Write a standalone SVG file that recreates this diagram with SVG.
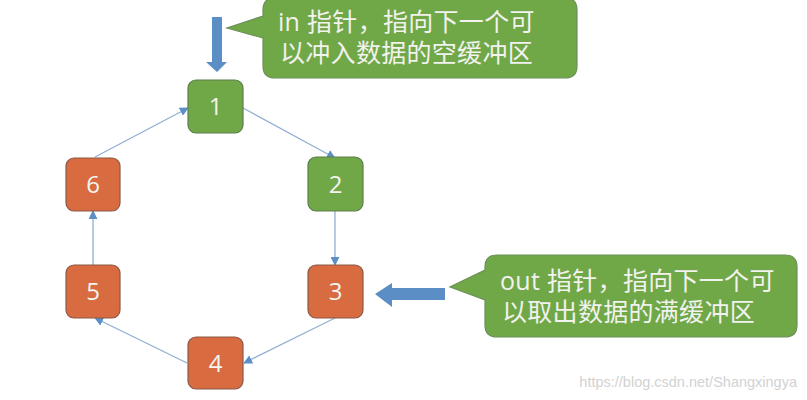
<svg xmlns="http://www.w3.org/2000/svg" width="807" height="400" viewBox="0 0 807 400">
<defs>
<marker id="ah" viewBox="0 0 10 10" refX="9" refY="5" markerWidth="9" markerHeight="9" markerUnits="userSpaceOnUse" orient="auto">
<path d="M0,0 L10,5 L0,10 Z" fill="#5b8fc7"/>
</marker>
<style>
.g{fill:#70a848;stroke:#5d7f4a;stroke-width:1.2}
.o{fill:#d86b40;stroke:#8a5a48;stroke-width:1.2}
.n{font-family:"Open Sans","Liberation Sans",sans-serif;font-size:24px;fill:#f4f4f0;text-anchor:middle}
.c{fill:#70a848;stroke:#6c8f58;stroke-width:1.2}
.t{font-family:"Open Sans","Noto Sans CJK SC",sans-serif;font-size:25px;fill:#f2f2ee}
.e{stroke:#8fb0d4;stroke-width:1.3;fill:none;marker-end:url(#ah)}
.b{fill:#5b8ec4}
</style>
</defs>
<rect width="807" height="400" fill="#ffffff"/>
<g id="connectors">
<line class="e" x1="243" y1="108" x2="335" y2="158"/>
<line class="e" x1="335" y1="211" x2="335" y2="265"/>
<line class="e" x1="335" y1="318" x2="244" y2="363"/>
<line class="e" x1="187" y1="363" x2="95" y2="318"/>
<line class="e" x1="93" y1="265" x2="93" y2="211"/>
<line class="e" x1="95" y1="157" x2="188" y2="108"/>
</g>
<g id="node1"><rect class="g" x="188" y="80" width="55" height="53" rx="8"/><text class="n" x="215.5" y="115">1</text></g>
<g id="node2"><rect class="g" x="308" y="157" width="55" height="54" rx="8"/><text class="n" x="335.5" y="193">2</text></g>
<g id="node3"><rect class="o" x="308" y="265" width="55" height="53" rx="8"/><text class="n" x="335.5" y="300">3</text></g>
<g id="node4"><rect class="o" x="188" y="337" width="55" height="52" rx="8"/><text class="n" x="215.5" y="372">4</text></g>
<g id="node5"><rect class="o" x="66" y="265" width="54" height="53" rx="8"/><text class="n" x="93" y="300">5</text></g>
<g id="node6"><rect class="o" x="66" y="158" width="54" height="53" rx="8"/><text class="n" x="93" y="193">6</text></g>
<g id="in-arrow"><path class="b" d="M212,17 H222 V62 H227 L217,72 L206,62 H212 Z"/></g>
<g id="out-arrow"><path class="b" d="M445,288 V300 H392 V307 L375,294 L392,283 V288 Z"/></g>
<g id="in-callout">
<path class="c" d="M275,-2 H565 Q577,-2 577,10 V66 Q577,78 565,78 H275 Q263,78 263,66 V38 L227,28 L263,16 V10 Q263,-2 275,-2 Z"/>
<text class="t" x="278" y="31" letter-spacing="0.3">in 指针，指向下一个可</text>
<text class="t" x="280" y="62" letter-spacing="0.3">以冲入数据的空缓冲区</text>
</g>
<g id="out-callout">
<path class="c" d="M497,255 H785 Q797,255 797,267 V325 Q797,337 785,337 H497 Q485,337 485,325 V300 L450,287 L485,270 V267 Q485,255 497,255 Z"/>
<text class="t" x="500" y="290" letter-spacing="0.3">out 指针，指向下一个可</text>
<text class="t" x="502" y="321" letter-spacing="0.3">以取出数据的满缓冲区</text>
</g>
<text x="797" y="387" text-anchor="end" font-family="Liberation Sans, Arial, sans-serif" font-size="14.5" fill="#d2d2d2">https://blog.csdn.net/Shangxingya</text>
</svg>
